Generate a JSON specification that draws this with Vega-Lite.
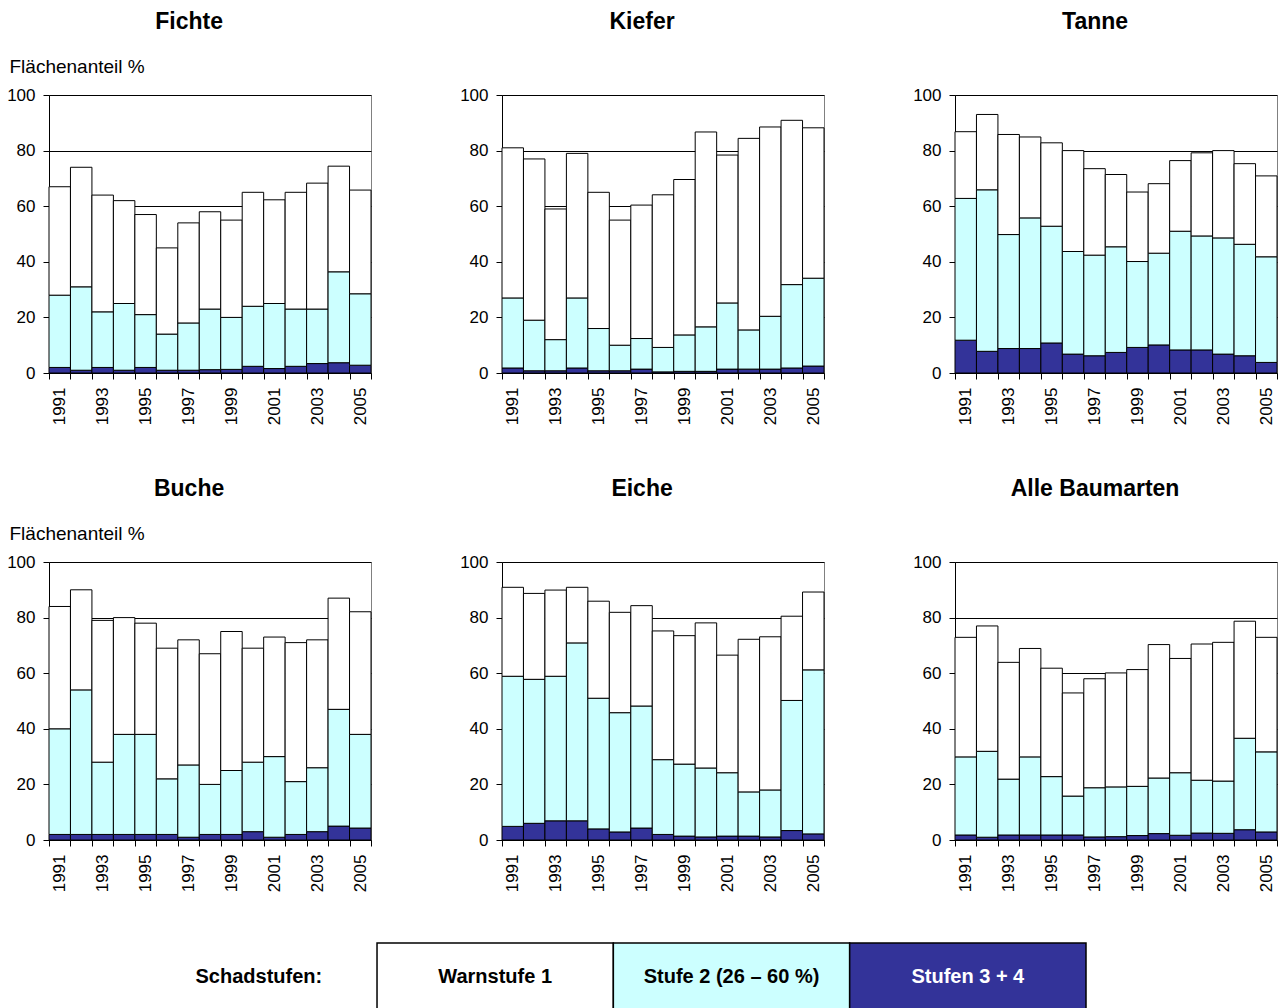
{
  "$schema": "https://vega.github.io/schema/vega-lite/v6.json",
  "background": "white",
  "padding": {"left": 6, "top": 10, "right": 0, "bottom": 0},
  "autosize": {"type": "pad"},
  "config": {
    "font": "Liberation Sans",
    "view": {"stroke": "#808080", "strokeWidth": 1},
    "title": {"fontSize": 23, "fontWeight": "bold", "color": "#000000", "frame": "bounds", "anchor": "middle"},
    "axis": {"domainColor": "#000000", "tickColor": "#000000", "labelColor": "#000000", "labelFontSize": 17, "tickSize": 6, "labelPadding": 8, "domainWidth": 1, "tickWidth": 1},
    "axisY": {"values": [0, 20, 40, 60, 80, 100], "grid": true, "gridColor": "#000000", "gridOpacity": 1, "gridWidth": 1},
    "axisX": {"grid": false, "tickBand": "extent", "labelAngle": -90, "labelExpr": "datum.value % 2 == 1 ? datum.label : ''", "title": null},
    "bar": {"stroke": "#000000", "strokeWidth": 1}
  },
  "data": {"values": [
    {"art": "Fichte", "jahr": 1991, "dunkel": 2, "hell": 26, "weiss": 39},
    {"art": "Fichte", "jahr": 1992, "dunkel": 1, "hell": 30, "weiss": 43},
    {"art": "Fichte", "jahr": 1993, "dunkel": 2, "hell": 20, "weiss": 42},
    {"art": "Fichte", "jahr": 1994, "dunkel": 1, "hell": 24, "weiss": 37},
    {"art": "Fichte", "jahr": 1995, "dunkel": 2, "hell": 19, "weiss": 36},
    {"art": "Fichte", "jahr": 1996, "dunkel": 1, "hell": 13, "weiss": 31},
    {"art": "Fichte", "jahr": 1997, "dunkel": 1, "hell": 17, "weiss": 36},
    {"art": "Fichte", "jahr": 1998, "dunkel": 1.2, "hell": 21.8, "weiss": 35},
    {"art": "Fichte", "jahr": 1999, "dunkel": 1.3, "hell": 18.7, "weiss": 35},
    {"art": "Fichte", "jahr": 2000, "dunkel": 2.4, "hell": 21.6, "weiss": 41},
    {"art": "Fichte", "jahr": 2001, "dunkel": 1.6, "hell": 23.4, "weiss": 37.3},
    {"art": "Fichte", "jahr": 2002, "dunkel": 2.4, "hell": 20.6, "weiss": 42},
    {"art": "Fichte", "jahr": 2003, "dunkel": 3.4, "hell": 19.6, "weiss": 45.3},
    {"art": "Fichte", "jahr": 2004, "dunkel": 3.7, "hell": 32.7, "weiss": 38},
    {"art": "Fichte", "jahr": 2005, "dunkel": 2.8, "hell": 25.7, "weiss": 37.3},
    {"art": "Kiefer", "jahr": 1991, "dunkel": 1.8, "hell": 25.2, "weiss": 54},
    {"art": "Kiefer", "jahr": 1992, "dunkel": 0.8, "hell": 18.2, "weiss": 58},
    {"art": "Kiefer", "jahr": 1993, "dunkel": 0.8, "hell": 11.2, "weiss": 47},
    {"art": "Kiefer", "jahr": 1994, "dunkel": 1.8, "hell": 25.2, "weiss": 52},
    {"art": "Kiefer", "jahr": 1995, "dunkel": 0.8, "hell": 15.2, "weiss": 49},
    {"art": "Kiefer", "jahr": 1996, "dunkel": 0.8, "hell": 9.2, "weiss": 45},
    {"art": "Kiefer", "jahr": 1997, "dunkel": 1.4, "hell": 11, "weiss": 48},
    {"art": "Kiefer", "jahr": 1998, "dunkel": 0.4, "hell": 8.8, "weiss": 54.9},
    {"art": "Kiefer", "jahr": 1999, "dunkel": 0.6, "hell": 13.1, "weiss": 55.9},
    {"art": "Kiefer", "jahr": 2000, "dunkel": 0.6, "hell": 16, "weiss": 70.1},
    {"art": "Kiefer", "jahr": 2001, "dunkel": 1.4, "hell": 23.8, "weiss": 53.2},
    {"art": "Kiefer", "jahr": 2002, "dunkel": 1.4, "hell": 14.1, "weiss": 68.9},
    {"art": "Kiefer", "jahr": 2003, "dunkel": 1.4, "hell": 19, "weiss": 68.1},
    {"art": "Kiefer", "jahr": 2004, "dunkel": 1.8, "hell": 30, "weiss": 59.1},
    {"art": "Kiefer", "jahr": 2005, "dunkel": 2.5, "hell": 31.6, "weiss": 54.1},
    {"art": "Tanne", "jahr": 1991, "dunkel": 11.8, "hell": 51, "weiss": 24},
    {"art": "Tanne", "jahr": 1992, "dunkel": 7.8, "hell": 58.1, "weiss": 27.1},
    {"art": "Tanne", "jahr": 1993, "dunkel": 8.8, "hell": 41, "weiss": 36},
    {"art": "Tanne", "jahr": 1994, "dunkel": 8.8, "hell": 47, "weiss": 29.1},
    {"art": "Tanne", "jahr": 1995, "dunkel": 10.8, "hell": 42, "weiss": 30},
    {"art": "Tanne", "jahr": 1996, "dunkel": 6.8, "hell": 36.9, "weiss": 36.3},
    {"art": "Tanne", "jahr": 1997, "dunkel": 6.2, "hell": 36.2, "weiss": 31.1},
    {"art": "Tanne", "jahr": 1998, "dunkel": 7.4, "hell": 38, "weiss": 26},
    {"art": "Tanne", "jahr": 1999, "dunkel": 9.2, "hell": 30.9, "weiss": 25},
    {"art": "Tanne", "jahr": 2000, "dunkel": 10.1, "hell": 33, "weiss": 25},
    {"art": "Tanne", "jahr": 2001, "dunkel": 8.3, "hell": 42.7, "weiss": 25.4},
    {"art": "Tanne", "jahr": 2002, "dunkel": 8.3, "hell": 41, "weiss": 29.9},
    {"art": "Tanne", "jahr": 2003, "dunkel": 6.8, "hell": 41.8, "weiss": 31.4},
    {"art": "Tanne", "jahr": 2004, "dunkel": 6.2, "hell": 40.1, "weiss": 29},
    {"art": "Tanne", "jahr": 2005, "dunkel": 3.8, "hell": 38, "weiss": 29.1},
    {"art": "Buche", "jahr": 1991, "dunkel": 2, "hell": 38, "weiss": 44},
    {"art": "Buche", "jahr": 1992, "dunkel": 2, "hell": 52, "weiss": 36},
    {"art": "Buche", "jahr": 1993, "dunkel": 2, "hell": 26, "weiss": 51},
    {"art": "Buche", "jahr": 1994, "dunkel": 2, "hell": 36, "weiss": 42},
    {"art": "Buche", "jahr": 1995, "dunkel": 2, "hell": 36, "weiss": 40},
    {"art": "Buche", "jahr": 1996, "dunkel": 2, "hell": 20, "weiss": 47},
    {"art": "Buche", "jahr": 1997, "dunkel": 1, "hell": 26, "weiss": 45},
    {"art": "Buche", "jahr": 1998, "dunkel": 2, "hell": 18, "weiss": 47},
    {"art": "Buche", "jahr": 1999, "dunkel": 2, "hell": 23, "weiss": 50},
    {"art": "Buche", "jahr": 2000, "dunkel": 3, "hell": 25, "weiss": 41},
    {"art": "Buche", "jahr": 2001, "dunkel": 1, "hell": 29, "weiss": 43},
    {"art": "Buche", "jahr": 2002, "dunkel": 2, "hell": 19, "weiss": 50},
    {"art": "Buche", "jahr": 2003, "dunkel": 3, "hell": 23, "weiss": 46},
    {"art": "Buche", "jahr": 2004, "dunkel": 5, "hell": 42, "weiss": 40},
    {"art": "Buche", "jahr": 2005, "dunkel": 4.3, "hell": 33.7, "weiss": 44.1},
    {"art": "Eiche", "jahr": 1991, "dunkel": 4.9, "hell": 54, "weiss": 32},
    {"art": "Eiche", "jahr": 1992, "dunkel": 6, "hell": 51.8, "weiss": 30.9},
    {"art": "Eiche", "jahr": 1993, "dunkel": 6.9, "hell": 52, "weiss": 31},
    {"art": "Eiche", "jahr": 1994, "dunkel": 6.9, "hell": 64, "weiss": 20},
    {"art": "Eiche", "jahr": 1995, "dunkel": 4, "hell": 47, "weiss": 34.9},
    {"art": "Eiche", "jahr": 1996, "dunkel": 2.9, "hell": 42.9, "weiss": 36.1},
    {"art": "Eiche", "jahr": 1997, "dunkel": 4.3, "hell": 43.9, "weiss": 36.1},
    {"art": "Eiche", "jahr": 1998, "dunkel": 2, "hell": 26.9, "weiss": 46.3},
    {"art": "Eiche", "jahr": 1999, "dunkel": 1.4, "hell": 25.9, "weiss": 46.2},
    {"art": "Eiche", "jahr": 2000, "dunkel": 1.1, "hell": 24.8, "weiss": 52.2},
    {"art": "Eiche", "jahr": 2001, "dunkel": 1.4, "hell": 22.8, "weiss": 42.3},
    {"art": "Eiche", "jahr": 2002, "dunkel": 1.4, "hell": 15.9, "weiss": 54.9},
    {"art": "Eiche", "jahr": 2003, "dunkel": 1.1, "hell": 16.9, "weiss": 55.1},
    {"art": "Eiche", "jahr": 2004, "dunkel": 3.4, "hell": 46.8, "weiss": 30.3},
    {"art": "Eiche", "jahr": 2005, "dunkel": 2.2, "hell": 59, "weiss": 28},
    {"art": "Alle Baumarten", "jahr": 1991, "dunkel": 1.8, "hell": 28.1, "weiss": 43},
    {"art": "Alle Baumarten", "jahr": 1992, "dunkel": 1, "hell": 30.9, "weiss": 45.1},
    {"art": "Alle Baumarten", "jahr": 1993, "dunkel": 1.8, "hell": 20.1, "weiss": 42},
    {"art": "Alle Baumarten", "jahr": 1994, "dunkel": 1.8, "hell": 28.1, "weiss": 39},
    {"art": "Alle Baumarten", "jahr": 1995, "dunkel": 1.8, "hell": 21, "weiss": 39},
    {"art": "Alle Baumarten", "jahr": 1996, "dunkel": 1.8, "hell": 14, "weiss": 37.1},
    {"art": "Alle Baumarten", "jahr": 1997, "dunkel": 1.1, "hell": 17.7, "weiss": 39.2},
    {"art": "Alle Baumarten", "jahr": 1998, "dunkel": 1.2, "hell": 17.9, "weiss": 41},
    {"art": "Alle Baumarten", "jahr": 1999, "dunkel": 1.6, "hell": 17.7, "weiss": 42},
    {"art": "Alle Baumarten", "jahr": 2000, "dunkel": 2.3, "hell": 20, "weiss": 48},
    {"art": "Alle Baumarten", "jahr": 2001, "dunkel": 1.7, "hell": 22.5, "weiss": 41.1},
    {"art": "Alle Baumarten", "jahr": 2002, "dunkel": 2.5, "hell": 19, "weiss": 49},
    {"art": "Alle Baumarten", "jahr": 2003, "dunkel": 2.4, "hell": 18.8, "weiss": 49.9},
    {"art": "Alle Baumarten", "jahr": 2004, "dunkel": 3.7, "hell": 32.9, "weiss": 42.1},
    {"art": "Alle Baumarten", "jahr": 2005, "dunkel": 2.9, "hell": 28.8, "weiss": 41.2}
  ]},
  "spacing": 49,
  "vconcat": [
    {
      "spacing": 51,
      "vconcat": [
        {
          "bounds": "flush",
          "spacing": 131,
          "hconcat": [
            {
              "title": {"text": "Fichte", "offset": 23},
              "width": 322, "height": 278,
              "transform": [{"filter": "datum.art === 'Fichte'"}, {"fold": ["dunkel", "hell", "weiss"], "as": ["stufe", "wert"]}],
              "mark": "bar",
              "encoding": {
                "x": {"field": "jahr", "type": "ordinal", "scale": {"paddingInner": 0, "paddingOuter": 0}},
                "y": {"field": "wert", "type": "quantitative", "stack": "zero", "scale": {"domain": [0, 100]}, "axis": {"title": "Flächenanteil %", "titleAngle": 0, "titleAlign": "left", "titleBaseline": "alphabetic", "titleX": -40, "titleY": -23, "titleFontSize": 19, "titleFontWeight": "normal", "titleColor": "#000000"}},
                "color": {"field": "stufe", "type": "nominal", "scale": {"domain": ["dunkel", "hell", "weiss"], "range": ["#333399", "#CCFFFF", "#FFFFFF"]}, "legend": null},
                "order": {"field": "stufe", "sort": "ascending"}
              }
            },
            {
              "title": {"text": "Kiefer", "offset": 52},
              "width": 322, "height": 278,
              "transform": [{"filter": "datum.art === 'Kiefer'"}, {"fold": ["dunkel", "hell", "weiss"], "as": ["stufe", "wert"]}],
              "mark": "bar",
              "encoding": {
                "x": {"field": "jahr", "type": "ordinal", "scale": {"paddingInner": 0, "paddingOuter": 0}},
                "y": {"field": "wert", "type": "quantitative", "stack": "zero", "scale": {"domain": [0, 100]}, "axis": {"title": null}},
                "color": {"field": "stufe", "type": "nominal", "scale": {"domain": ["dunkel", "hell", "weiss"], "range": ["#333399", "#CCFFFF", "#FFFFFF"]}, "legend": null},
                "order": {"field": "stufe", "sort": "ascending"}
              }
            },
            {
              "title": {"text": "Tanne", "offset": 52},
              "width": 322, "height": 278,
              "transform": [{"filter": "datum.art === 'Tanne'"}, {"fold": ["dunkel", "hell", "weiss"], "as": ["stufe", "wert"]}],
              "mark": "bar",
              "encoding": {
                "x": {"field": "jahr", "type": "ordinal", "scale": {"paddingInner": 0, "paddingOuter": 0}},
                "y": {"field": "wert", "type": "quantitative", "stack": "zero", "scale": {"domain": [0, 100]}, "axis": {"title": null}},
                "color": {"field": "stufe", "type": "nominal", "scale": {"domain": ["dunkel", "hell", "weiss"], "range": ["#333399", "#CCFFFF", "#FFFFFF"]}, "legend": null},
                "order": {"field": "stufe", "sort": "ascending"}
              }
            }
          ]
        },
        {
          "bounds": "flush",
          "spacing": 131,
          "hconcat": [
            {
              "title": {"text": "Buche", "offset": 23},
              "width": 322, "height": 278,
              "transform": [{"filter": "datum.art === 'Buche'"}, {"fold": ["dunkel", "hell", "weiss"], "as": ["stufe", "wert"]}],
              "mark": "bar",
              "encoding": {
                "x": {"field": "jahr", "type": "ordinal", "scale": {"paddingInner": 0, "paddingOuter": 0}},
                "y": {"field": "wert", "type": "quantitative", "stack": "zero", "scale": {"domain": [0, 100]}, "axis": {"title": "Flächenanteil %", "titleAngle": 0, "titleAlign": "left", "titleBaseline": "alphabetic", "titleX": -40, "titleY": -23, "titleFontSize": 19, "titleFontWeight": "normal", "titleColor": "#000000"}},
                "color": {"field": "stufe", "type": "nominal", "scale": {"domain": ["dunkel", "hell", "weiss"], "range": ["#333399", "#CCFFFF", "#FFFFFF"]}, "legend": null},
                "order": {"field": "stufe", "sort": "ascending"}
              }
            },
            {
              "title": {"text": "Eiche", "offset": 52},
              "width": 322, "height": 278,
              "transform": [{"filter": "datum.art === 'Eiche'"}, {"fold": ["dunkel", "hell", "weiss"], "as": ["stufe", "wert"]}],
              "mark": "bar",
              "encoding": {
                "x": {"field": "jahr", "type": "ordinal", "scale": {"paddingInner": 0, "paddingOuter": 0}},
                "y": {"field": "wert", "type": "quantitative", "stack": "zero", "scale": {"domain": [0, 100]}, "axis": {"title": null}},
                "color": {"field": "stufe", "type": "nominal", "scale": {"domain": ["dunkel", "hell", "weiss"], "range": ["#333399", "#CCFFFF", "#FFFFFF"]}, "legend": null},
                "order": {"field": "stufe", "sort": "ascending"}
              }
            },
            {
              "title": {"text": "Alle Baumarten", "offset": 52},
              "width": 322, "height": 278,
              "transform": [{"filter": "datum.art === 'Alle Baumarten'"}, {"fold": ["dunkel", "hell", "weiss"], "as": ["stufe", "wert"]}],
              "mark": "bar",
              "encoding": {
                "x": {"field": "jahr", "type": "ordinal", "scale": {"paddingInner": 0, "paddingOuter": 0}},
                "y": {"field": "wert", "type": "quantitative", "stack": "zero", "scale": {"domain": [0, 100]}, "axis": {"title": null}},
                "color": {"field": "stufe", "type": "nominal", "scale": {"domain": ["dunkel", "hell", "weiss"], "range": ["#333399", "#CCFFFF", "#FFFFFF"]}, "legend": null},
                "order": {"field": "stufe", "sort": "ascending"}
              }
            }
          ]
        }
      ]
    },
    {
      "width": 1037, "height": 68,
      "view": {"stroke": null},
      "data": {"values": [
        {"label": "Schadstufen:", "stufe": "keine"},
        {"label": "Warnstufe 1", "stufe": "weiss"},
        {"label": "Stufe 2 (26 – 60 %)", "stufe": "hell"},
        {"label": "Stufen 3 + 4", "stufe": "dunkel"}
      ]},
      "encoding": {
        "x": {"field": "label", "type": "nominal", "sort": null, "scale": {"domain": ["Schadstufen:", "Warnstufe 1", "Stufe 2 (26 – 60 %)", "Stufen 3 + 4"], "paddingInner": 0, "paddingOuter": 0.194, "align": 1}, "axis": null}
      },
      "layer": [
        {
          "transform": [{"filter": "datum.stufe !== 'keine'"}],
          "mark": {"type": "rect", "stroke": "#000000", "strokeWidth": 1.5},
          "encoding": {
            "color": {"field": "stufe", "type": "nominal", "scale": {"domain": ["dunkel", "hell", "weiss"], "range": ["#333399", "#CCFFFF", "#FFFFFF"]}, "legend": null}
          }
        },
        {
          "mark": {"type": "text", "fontSize": 20, "fontWeight": "bold", "baseline": "middle", "align": "center"},
          "encoding": {
            "text": {"field": "label"},
            "color": {"condition": {"test": "datum.stufe === 'dunkel'", "value": "#FFFFFF"}, "value": "#000000"}
          }
        }
      ]
    }
  ]
}
